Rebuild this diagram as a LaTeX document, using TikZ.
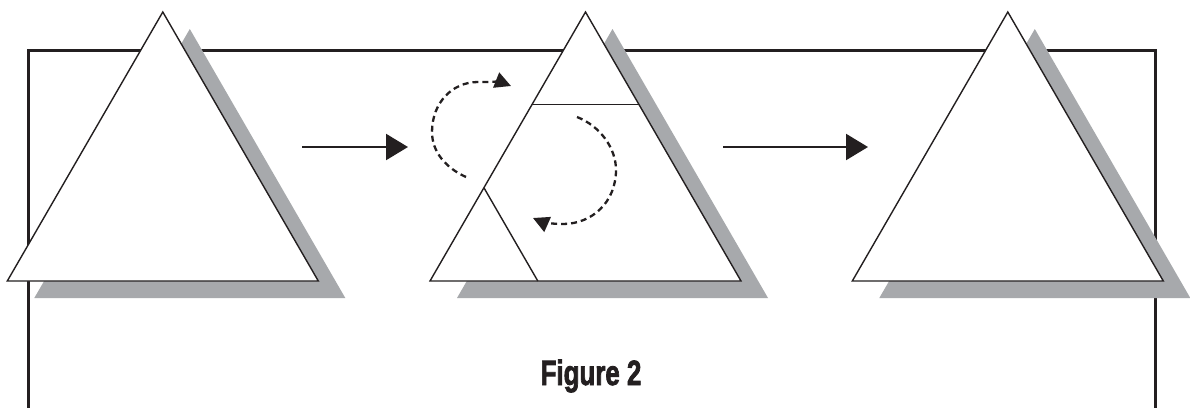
\documentclass[tikz,border=0pt]{standalone}
\usepackage{fontspec}
\usepackage{graphicx}
\usetikzlibrary{arrows.meta}
\newfontfamily\capfont[FakeBold=2.5]{Liberation Sans Bold}
\definecolor{ink}{HTML}{231F20}
\definecolor{shade}{HTML}{A7A9AC}
\begin{document}
\begin{tikzpicture}[x=1pt,y=-1pt,
  frame/.style={line width=3pt, draw=ink},
  shadowtri/.style={fill=shade, draw=none},
  tri/.style={fill=white, draw=ink, line width=1.4pt, line join=miter},
  inner/.style={draw=ink, line width=1.4pt},
  bigarrow/.style={draw=ink, line width=2.2pt, -{Triangle[length=22pt,width=26pt]}},
  swaparrow/.style={draw=ink, line width=2.3pt, dash pattern=on 6pt off 4pt, -{Triangle[length=16pt,width=16pt]}},
  caption/.style={font=\capfont\fontsize{35}{40}\selectfont, text=ink, inner sep=0pt}]
\clip (0,0) rectangle (1190,407);
\fill[white] (0,0) rectangle (1190,407);
% frame
\draw[frame] (28,420) -- (28,50) -- (1155,50) -- (1155,420);
% shadows
\foreach \cx in {162.8,585.5,1007.8}{
  \fill[shadowtri] (\cx+27,29) -- (\cx+155.5+27,298) -- (\cx-155.5+27,298) -- cycle;
}
% triangles
\foreach \cx in {162.8,585.5,1007.8}{
  \draw[tri] (\cx,12) -- (\cx+155.5,281) -- (\cx-155.5,281) -- cycle;
}
% inner cuts of the middle triangle
\coordinate (hl) at (532.1,104.3);
\coordinate (hr) at (638.9,104.3);
\coordinate (sa) at (483.9,187.7);
\coordinate (sb) at (537.8,281);
\draw[inner] (hl) -- (hr);
\draw[inner] (sa) -- (sb);
% big arrows
\coordinate (a1s) at (302,147);
\coordinate (a1e) at (408,147);
\coordinate (a2s) at (723,147);
\coordinate (a2e) at (868,147);
\draw[bigarrow] (a1s) -- (a1e);
\draw[bigarrow] (a2s) -- (a2e);
% dashed swap arrows
\coordinate (d1s) at (466,177);
\coordinate (d1e) at (511,86);
\coordinate (d2s) at (577,117);
\coordinate (d2e) at (533,218);
\draw[swaparrow] (d1s) .. controls (446,168) and (432,152) .. (432,132)
   .. controls (432,103) and (452,82) .. (478,82)
   .. controls (490,82) and (501,82) .. (d1e);
\draw[swaparrow] (d2s) .. controls (600,126) and (616,148) .. (616,170)
   .. controls (616,202) and (592,224) .. (563,224)
   .. controls (552,224) and (542,222) .. (d2e);
% caption
\node[caption, anchor=base] (cap) at (591,385) {\scalebox{0.74}[1]{Figure 2}};
\end{tikzpicture}
\end{document}
